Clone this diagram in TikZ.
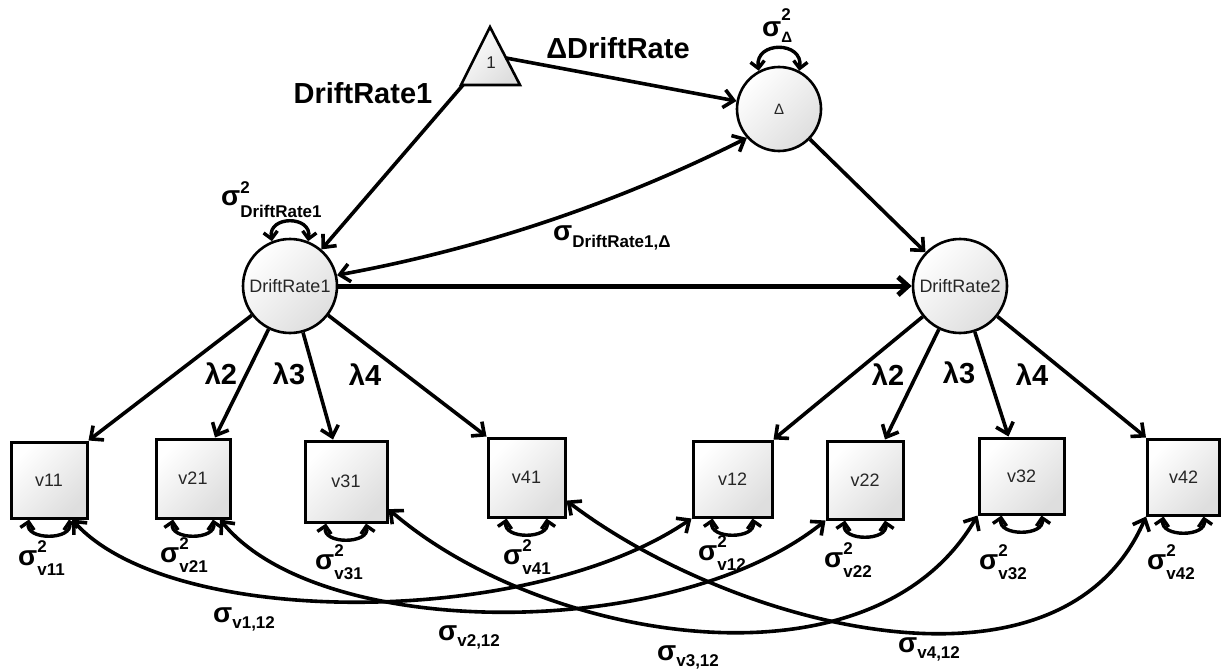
\documentclass[tikz,border=0pt]{standalone}
\usepackage{fontspec}
\setmainfont{Liberation Sans}
\usetikzlibrary{arrows.meta,calc}
\newcommand\fs[1]{\fontsize{#1}{#1}\selectfont}
\newcommand\sigsq[3]{{\fs{28}\bfseries σ\rlap{\raisebox{#1pt}{\fs{17}2}}\raisebox{-#2pt}{\fs{17}#3}}}
\newcommand\sigcov[2]{{\fs{28}\bfseries σ\raisebox{-#1pt}{\fs{17}#2}}}
\begin{document}
\begin{tikzpicture}[x=1pt,y=-1pt,
  shadebox/.style={draw=black, top color=white, bottom color=black!13, shading angle=45, inner sep=0pt, font=\fs{18}, text=black!85},
  obs/.style={shadebox, rectangle, line width=3pt},
  lat/.style={shadebox, circle, line width=2.6pt},
  arr/.style={-{Straight Barb[length=10pt,width=18pt]}, line width=3.6pt},
  darr/.style={{Straight Barb[length=10pt,width=18pt]}-{Straight Barb[length=10pt,width=18pt]}, line width=3.6pt},
  selfloop/.style={{Straight Barb[length=7pt,width=14pt]}-{Straight Barb[length=7pt,width=14pt]}, line width=3.4pt},
  lab/.style={inner sep=0pt, font=\fs{29}\bfseries},
  slab/.style={inner sep=0pt, anchor=base west}
]
\useasboundingbox (0,0) rectangle (1222,671);

% triangle (constant)
\path[draw=black, line width=2.6pt, top color=white, bottom color=black!13, shading angle=45]
  (490,27) -- (520,85) -- (461,85) -- cycle;
\node[inner sep=0pt, font=\fs{17}, text=black!85] (one) at (491,63) {1};
\coordinate (triL) at (463,85);
\coordinate (triR) at (506,58);

% latent variables
\node[lat, minimum size=94pt] (D1) at (290,286) {DriftRate1};
\node[lat, minimum size=94pt] (D2) at (960,286) {DriftRate2};
\node[lat, minimum size=84pt, font=\fs{15}] (Dl) at (779,109) {Δ};

% observed variables
\node[obs, minimum width=76pt, minimum height=76pt] (v11) at (49,480) {v11};
\node[obs, minimum width=74pt, minimum height=79pt] (v21) at (193,478.5) {v21};
\node[obs, minimum width=82pt, minimum height=81pt] (v31) at (346,481.5) {v31};
\node[obs, minimum width=77pt, minimum height=79pt] (v41) at (526.5,477.5) {v41};
\node[obs, minimum width=79pt, minimum height=76pt] (v12) at (732.5,479) {v12};
\node[obs, minimum width=76pt, minimum height=78pt] (v22) at (865,480) {v22};
\node[obs, minimum width=85pt, minimum height=76pt] (v32) at (1021.5,476) {v32};
\node[obs, minimum width=72pt, minimum height=76pt] (v42) at (1183.5,477) {v42};

% structural paths
\draw[arr] (triL) -- (D1);
\draw[arr] (triR) -- (Dl);
\draw[arr] (Dl) -- (D2);
\draw[-{Straight Barb[length=10pt,width=18pt]}, line width=5pt] (D1) -- (D2);
\draw[darr] (D1.13) .. controls (480,249) and (615,204) .. (Dl.222);

% loadings
\draw[arr] (D1) -- (v11.north east);
\draw[arr] (D1) -- ($(v21.north)+(22,0)$);
\draw[arr] (D1) -- ($(v31.north)+(-13,0)$);
\draw[arr] (D1) -- (v41.north west);
\draw[arr] (D2) -- (v12.north east);
\draw[arr] (D2) -- ($(v22.north)+(20,0)$);
\draw[arr] (D2) -- ($(v32.north)+(-13,0)$);
\draw[arr] (D2) -- (v42.north west);

% labels
\node[lab] (lD1) at (363,93) {DriftRate1};
\node[lab] (lDD) at (618,48) {ΔDriftRate};
\node[lab] (l2a) at (221,374) {λ2};
\node[lab] (l3a) at (289,374) {λ3};
\node[lab] (l4a) at (365,375) {λ4};
\node[lab] (l2b) at (888,375) {λ2};
\node[lab] (l3b) at (959,373) {λ3};
\node[lab] (l4b) at (1032,375) {λ4};

% variances of latent variables
\draw[selfloop] (D1.112) .. controls +(-4,-26) and +(4,-26) .. (D1.68);
\draw[selfloop] (Dl.118) .. controls +(-4,-30) and +(4,-30) .. (Dl.62);
\node[slab] (sD1) at (221,205) {\sigsq{12}{12}{DriftRate1}};
\node[slab] (sDl) at (762,37) {{\fs{28}\bfseries σ\rlap{\raisebox{16pt}{\fs{17}2}}\raisebox{-6pt}{\fs{15}Δ}}};
\node[slab] (cD1) at (553,240) {\sigcov{7}{DriftRate1,Δ}};

% residual variances
\foreach \v in {v11,v21,v31,v41,v12,v22,v32,v42}{
  \draw[selfloop] ($(\v.south)+(-20,0)$) .. controls +(-4,21) and +(4,21) .. ($(\v.south)+(20,0)$);
}
\node[slab] (s11) at (18,565) {\sigsq{13}{10}{v11}};
\node[slab] (s21) at (160,562) {\sigsq{13}{10}{v21}};
\node[slab] (s31) at (315,569) {\sigsq{13}{10}{v31}};
\node[slab] (s41) at (503,564) {\sigsq{13}{10}{v41}};
\node[slab] (s12) at (698,560) {\sigsq{13}{10}{v12}};
\node[slab] (s22) at (824,567) {\sigsq{13}{10}{v22}};
\node[slab] (s32) at (979,569) {\sigsq{13}{10}{v32}};
\node[slab] (s42) at (1147,569) {\sigsq{13}{10}{v42}};

% residual covariances
\draw[darr] ($(v11.south)+(23,0)$) .. controls (172,630) and (532,628) .. (v12.south west);
\draw[darr] ($(v21.south)+(27,0)$) .. controls (320,642) and (674,642) .. (v22.south west);
\draw[darr] (v31.-33) .. controls (540,640) and (870,700) .. (v32.south west);
\draw[darr] (v41.-30) .. controls (730,625) and (1060,715) .. (v42.south west);
\node[slab] (c1) at (213,622) {\sigcov{6}{v1,12}};
\node[slab] (c2) at (438,640) {\sigcov{6}{v2,12}};
\node[slab] (c3) at (657,660) {\sigcov{6}{v3,12}};
\node[slab] (c4) at (898,652) {\sigcov{6}{v4,12}};
\end{tikzpicture}
\end{document}
